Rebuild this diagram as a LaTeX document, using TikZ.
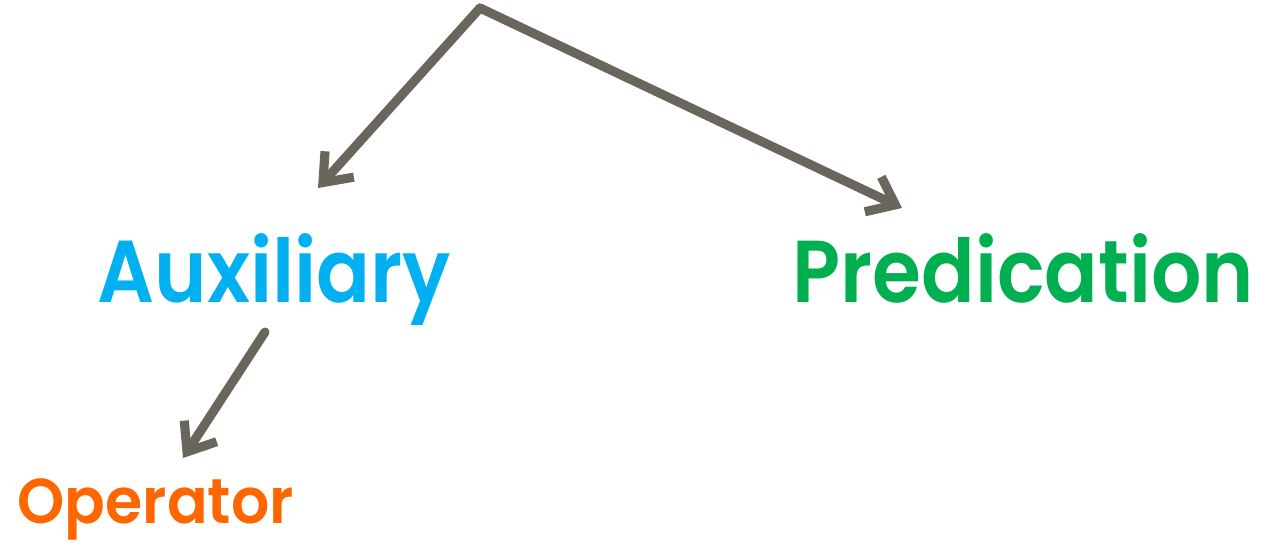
\documentclass[tikz,border=0pt]{standalone}
\usepackage{fontspec}
\setmainfont{Poppins}[BoldFont={* SemiBold}]
\usetikzlibrary{arrows.meta}
\definecolor{auxblue}{HTML}{00B0F0}
\definecolor{predgreen}{HTML}{00B050}
\definecolor{oporange}{HTML}{FF6600}
\definecolor{arrowgray}{HTML}{6B665C}
\tikzset{
  px/.style={x=0.01cm,y=-0.01cm},
  conn/.style={draw=arrowgray, line width=2.6pt, line cap=round, line join=round,
    -{Straight Barb[length=7pt,width=11pt,line width=2.6pt]}},
  lbl/.style={inner sep=0pt, anchor=base west, font=\bfseries},
}
\begin{document}
\begin{tikzpicture}[px]
\useasboundingbox (0,0) rectangle (1261,542);
\coordinate (top) at (480,8);
\coordinate (auxend) at (318,188);
\coordinate (predend) at (902,208);
\coordinate (auxstart) at (265,332);
\coordinate (opend) at (183,458);
\node[lbl, text=auxblue, font=\bfseries\fontsize{25}{30}\selectfont] (aux) at (97,302) {\resizebox{3.53cm}{\height}{Auxiliary}};
\node[lbl, text=predgreen, font=\bfseries\fontsize{25}{30}\selectfont] (pred) at (792,302) {\resizebox{4.61cm}{\height}{Predication}};
\node[lbl, text=oporange, font=\bfseries\fontsize{18}{22}\selectfont] (op) at (17,523) {\resizebox{2.76cm}{\height}{Operator}};
\draw[conn] (top) -- (auxend);
\draw[conn] (top) -- (predend);
\draw[conn] (auxstart) -- (opend);
\end{tikzpicture}
\end{document}
